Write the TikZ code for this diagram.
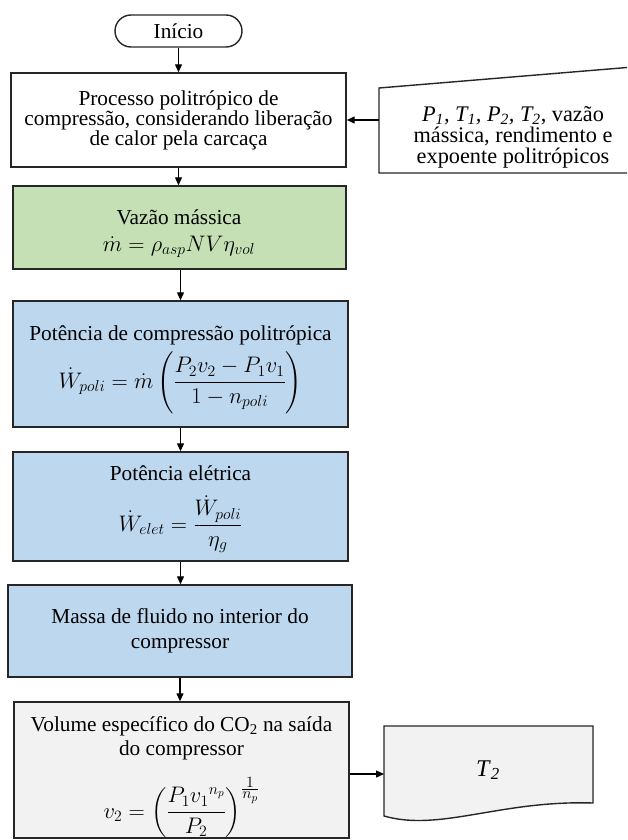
\RequirePackage{fix-cm}
\documentclass[tikz,border=0pt]{standalone}
\usepackage{fontspec}
\setmainfont{Liberation Serif}
\usepackage{amsmath}
\usetikzlibrary{arrows.meta}
\definecolor{boxgreen}{HTML}{C5E0B4}
\definecolor{boxblue}{HTML}{BDD7EE}
\definecolor{boxgrey}{HTML}{F2F2F2}
\definecolor{edge}{HTML}{262626}

\begin{document}
\begin{tikzpicture}[x=1pt,y=-1pt,
  every node/.style={font=\fontsize{21.3}{20}\selectfont},
  stepbox/.style={draw=edge,line width=1.4pt,rectangle,inner sep=0pt},
  line/.style={anchor=base,inner sep=0pt},
  formula/.style={anchor=base,inner sep=0pt,font=\fontsize{22.5}{24}\selectfont},
  plain/.style={align=center,inner sep=0pt},
  flow/.style={draw=black,line width=1.2pt,-{Triangle[length=8pt,width=7pt]}}]
\useasboundingbox (0,0) rectangle (627,840);

% start terminal
\node[stepbox, align=center, rounded corners=16pt, minimum width=127pt, minimum height=32pt] (ini) at (178.5,31) {Início};

% process description
\node[stepbox, align=center, fill=white, minimum width=335pt, minimum height=94pt] (proc) at (178.5,120)
  {Processo politrópico de\\compressão, considerando liberação\\de calor pela carcaça};

% manual input shape with the known data
\coordinate (inTL) at (379,88);
\coordinate (inBL) at (379,173);
\coordinate (inTR) at (627,67.5);
\coordinate (inBR) at (627,173);
\draw[edge, line width=1.4pt, fill=white] (inTR) -- (inTL) -- (inBL) -- (inBR);
\node[plain, font=\fontsize{22.3}{21}\selectfont] (inp) at (513,137)
  {\textit{P\textsubscript{1}, T\textsubscript{1}, P\textsubscript{2}, T\textsubscript{2}}, vazão\\mássica, rendimento e\\expoente politrópicos};
\coordinate (inArrow) at (379,120);

% mass flow rate
\node[stepbox, fill=boxgreen, minimum width=333pt, minimum height=83pt] (vaz) at (179.5,227.5) {};
\node[line] (vaz-a) at (179,224) {Vazão mássica};
\node[formula] (vaz-b) at (179,251) {$\dot{m} = \rho_{asp} N V \eta_{vol}$};

% polytropic compression power
\node[stepbox, fill=boxblue, minimum width=335pt, minimum height=126pt] (pot) at (180.5,364) {};
\node[line] (pot-a) at (180.5,340) {Potência de compressão politrópica};
\node[formula] (pot-b) at (180.5,388)
  {$\displaystyle \dot{W}_{poli} = \dot{m}\left(\frac{P_2 v_2 - P_1 v_1}{1 - n_{poli}}\right)$};

% electric power
\node[stepbox, fill=boxblue, minimum width=335pt, minimum height=109pt] (ele) at (180.5,506.5) {};
\node[line] (ele-a) at (180.5,480) {Potência elétrica};
\node[formula] (ele-b) at (180.5,531)
  {$\displaystyle \dot{W}_{elet} = \frac{\dot{W}_{poli}}{\eta_g}$};

% fluid mass
\node[stepbox, fill=boxblue, minimum width=344pt, minimum height=92pt] (mas) at (180,631) {};
\node[line] (mas-a) at (180,623) {Massa de fluido no interior do};
\node[line] (mas-b) at (180,648) {compressor};

% specific volume at the outlet
\node[stepbox, fill=boxgrey, minimum width=335pt, minimum height=136pt] (vol) at (181.5,770) {};
\node[line] (vol-a) at (181.5,731) {Volume específico do CO\textsubscript{2} na saída};
\node[line] (vol-b) at (181.5,755) {do compressor};
\node[formula] (vol-c) at (181.5,818)
  {$\displaystyle v_2 = \left(\frac{P_1 {v_1}^{n_p}}{P_2}\right)^{\frac{\scriptstyle 1}{\scriptstyle n_p}}$};

% output document
\coordinate (dTL) at (384,726);
\coordinate (dTR) at (593,726);
\coordinate (dBR) at (593,803);
\coordinate (dBL) at (384,816);
\draw[edge, line width=1.4pt, fill=boxgrey] (dBL) -- (dTL) -- (dTR) -- (dBR)
  .. controls (500,800) and (440,832) .. (dBL) -- cycle;
\node[line, font=\fontsize{24}{26}\selectfont] (out) at (488,776) {\textit{T}\textsubscript{\textit{2}}};
\coordinate (outIn) at (384,774);

% connectors
\draw[flow] (ini.south) -- (ini.south |- proc.north);
\draw[flow] (inArrow) -- (proc.east |- inArrow);
\draw[flow] (proc.south) -- (proc.south |- vaz.north);
\draw[flow] (vaz.south -| pot.north) -- (pot.north);
\draw[flow] (pot.south) -- (pot.south |- ele.north);
\draw[flow] (ele.south) -- (ele.south |- mas.north);
\draw[flow] (mas.south) -- (mas.south |- vol.north);
\draw[flow] (vol.east |- outIn) -- (outIn);
\end{tikzpicture}
\end{document}
